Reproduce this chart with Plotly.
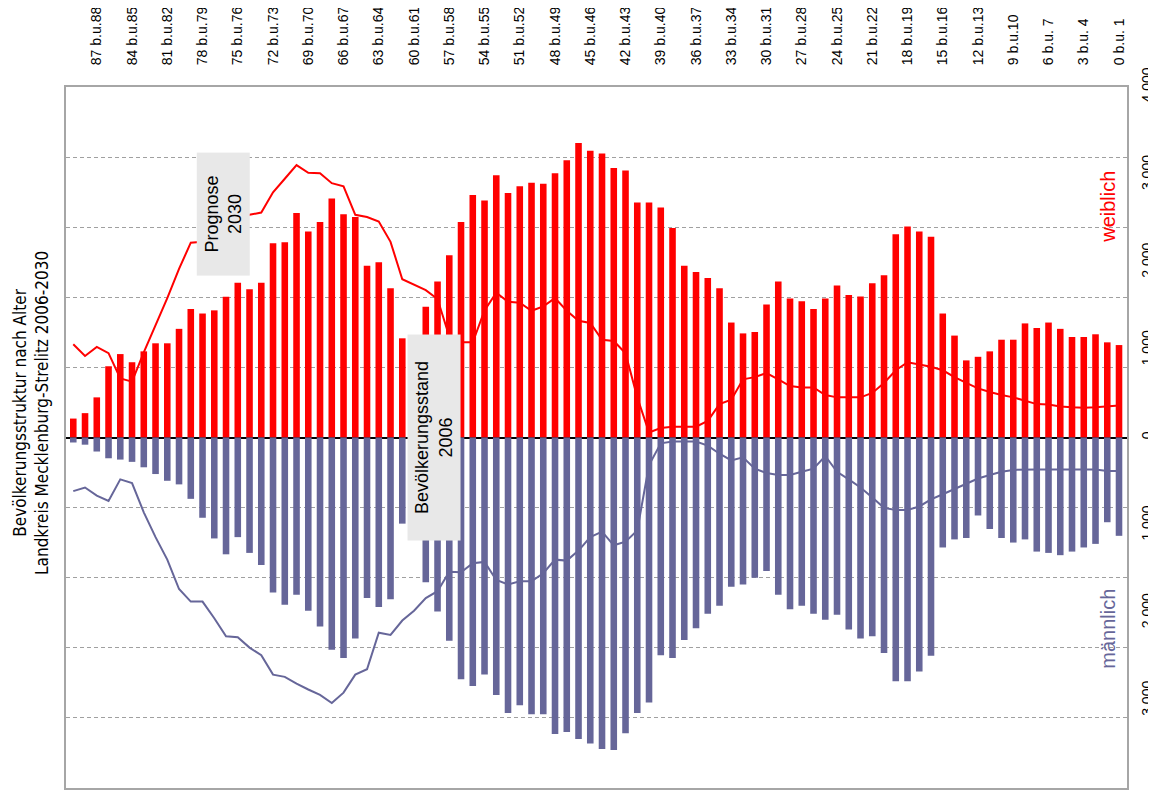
import plotly.graph_objects as go

# ages 89 .. 0 (left to right)
ages = list(range(89, -1, -1))

female_2006 = [216, 278, 458, 813, 952, 859, 983, 1075, 1075, 1240,
               1466, 1415, 1451, 1605, 1765, 1693, 1765, 2217, 2228, 2562,
               2351, 2459, 2727, 2547, 2516, 1960, 2001, 1703, 1132, 1050,
               1492, 1780, 2079, 2459, 2768, 2706, 2994, 2789, 2866, 2907,
               2897, 3015, 3164, 3360, 3272, 3241, 3077, 3046, 2681, 2681,
               2624, 2392, 1960, 1888, 1821, 1703, 1312, 1188, 1204, 1518,
               1780, 1585, 1554, 1466, 1585, 1734, 1626, 1610, 1760, 1852,
               2320, 2408, 2351, 2290, 1415, 1163, 880, 921, 983, 1116,
               1116, 1302, 1250, 1312, 1240, 1147, 1147, 1178, 1086, 1055]

male_2006 = [57, 82, 160, 237, 252, 278, 340, 417, 494, 535,
             700, 916, 1152, 1333, 1137, 1317, 1456, 1770, 1909, 1796,
             1976, 2156, 2423, 2516, 2295, 1832, 1935, 1847, 983, 1050,
             1652, 1986, 2320, 2758, 2835, 2706, 2938, 3144, 3056, 3159,
             3159, 3385, 3360, 3442, 3493, 3555, 3565, 3375, 3144, 3025,
             2485, 2516, 2310, 2176, 2012, 1919, 1703, 1677, 1600, 1523,
             1796, 1960, 1919, 2012, 2079, 2022, 2192, 2295, 2269, 2459,
             2783, 2783, 2670, 2490, 1255, 1163, 1147, 890, 1044, 1147,
             1199, 1163, 1302, 1317, 1343, 1302, 1255, 1214, 967, 1122]

female_2030 = [1065, 931, 1034, 962, 674, 638, 972, 1281, 1590, 1924,
               2223, 2233, 2270, 2350, 2450, 2542, 2567, 2799, 2953, 3108,
               3020, 3015, 2902, 2866, 2542, 2516, 2464, 2233, 1806, 1744,
               1682, 1580, 1152, 1086, 1086, 1450, 1652, 1549, 1538, 1446,
               1497, 1590, 1446, 1333, 1307, 1116, 1101, 962, 458, 57,
               108, 123, 123, 123, 190, 381, 432, 664, 689, 736,
               664, 587, 571, 571, 484, 458, 458, 458, 509, 623,
               767, 859, 833, 808, 767, 689, 623, 561, 520, 484,
               458, 422, 381, 376, 355, 345, 340, 345, 355, 365]

male_2030 = [612, 571, 664, 725, 478, 520, 854, 1137, 1394, 1729,
             1873, 1873, 2063, 2269, 2279, 2398, 2485, 2706, 2732, 2809,
             2876, 2938, 3030, 2912, 2706, 2645, 2228, 2253, 2089, 1976,
             1832, 1754, 1533, 1538, 1435, 1420, 1626, 1677, 1641, 1641,
             1549, 1394, 1405, 1291, 1137, 1075, 1230, 1188, 1060, 314,
             67, 46, 46, 46, 93, 185, 262, 226, 355, 406,
             427, 427, 391, 355, 211, 391, 478, 571, 684, 803,
             828, 828, 787, 705, 648, 587, 520, 468, 427, 391,
             370, 365, 365, 365, 365, 365, 365, 365, 381, 381]

label_ages = list(range(87, -1, -3))
label_text = [f"{a} b.u.{a+1}" if a + 1 >= 10 else f"{a} b.u. {a+1}" for a in label_ages]

value_ticks = [-4000, -3000, -2000, -1000, 0, 1000, 2000, 3000, 4000]
value_text = ["4.000", "3.000", "2.000", "1.000", "0", "1.000", "2.000", "3.000", "4.000"]

RED = "#ff0000"
SLATE = "#666699"
FONT = "Arial, Liberation Sans, sans-serif"

fig = go.Figure()
fig.add_trace(go.Bar(x=ages, y=female_2006, marker=dict(color=RED, line=dict(width=0)),
                     width=0.56, name="weiblich 2006"))
fig.add_trace(go.Bar(x=ages, y=[-v for v in male_2006], marker=dict(color=SLATE, line=dict(width=0)),
                     width=0.56, name="männlich 2006"))
fig.add_trace(go.Scatter(x=ages, y=female_2030, mode="lines", line=dict(color=RED, width=2),
                         name="weiblich 2030"))
fig.add_trace(go.Scatter(x=ages, y=[-v for v in male_2030], mode="lines", line=dict(color=SLATE, width=2),
                         name="männlich 2030"))

fig.update_layout(
    width=1148, height=792,
    margin=dict(l=58, r=29, t=79, b=12),
    paper_bgcolor="white", plot_bgcolor="white",
    barmode="relative",
    showlegend=False,
    font=dict(family=FONT, color="black"),
    xaxis=dict(
        range=[89.62, -0.68], side="top", automargin=False,
        tickmode="array", tickvals=label_ages, ticktext=label_text,
        tickangle=-90, tickfont=dict(size=14, family=FONT),
        ticks="", ticklabelstandoff=17,
        showgrid=False, zeroline=False,
        showline=True, mirror=True, linecolor="#a6a6a6", linewidth=2,
    ),
    yaxis=dict(
        range=[-4000, 4000], side="right", automargin=False,
        tickmode="array", tickvals=value_ticks, ticktext=value_text,
        tickangle=-90, tickfont=dict(size=14, family=FONT),
        ticks="", ticklabelstandoff=6,
        showgrid=False,
        zeroline=True, zerolinecolor="black", zerolinewidth=1.5,
        minor=dict(tickmode="linear", tick0=0, dtick=800, showgrid=True,
                   gridcolor="#a0a0a0", griddash="4px,3px", gridwidth=1, ticks=""),
        showline=True, mirror=True, linecolor="#a6a6a6", linewidth=2,
    ),
)

fig.add_annotation(x=76.2, y=2546, xref="x", yref="y", text="Prognose<br>2030",
                   textangle=-90, showarrow=False, bgcolor="#e8e8e8",
                   width=110, height=40, borderpad=6,
                   xanchor="center", yanchor="middle",
                   font=dict(size=18, family=FONT, color="black"))
fig.add_annotation(x=58.34, y=0, xref="x", yref="y", text="Bevölkerungsstand<br>2006",
                   textangle=-90, showarrow=False, bgcolor="#e8e8e8",
                   width=193, height=40, borderpad=6,
                   xanchor="center", yanchor="middle",
                   font=dict(size=18, family=FONT, color="black"))
fig.add_annotation(x=0.982, y=0.829, xref="paper", yref="paper", text="weiblich",
                   textangle=-90, showarrow=False, xanchor="center", yanchor="middle",
                   font=dict(size=20, family=FONT, color=RED))
fig.add_annotation(x=0.982, y=0.227, xref="paper", yref="paper", text="männlich",
                   textangle=-90, showarrow=False, xanchor="center", yanchor="middle",
                   font=dict(size=20, family=FONT, color=SLATE))
fig.add_annotation(x=-0.033, y=0.535, xref="paper", yref="paper",
                   text="Bevölkerungsstruktur nach Alter<br>Landkreis Mecklenburg-Strelitz 2006-2030",
                   textangle=-90, showarrow=False, xanchor="center", yanchor="middle",
                   font=dict(size=17, family="DejaVu Sans Condensed, sans-serif", color="black"))

fig.write_html("out.html")
